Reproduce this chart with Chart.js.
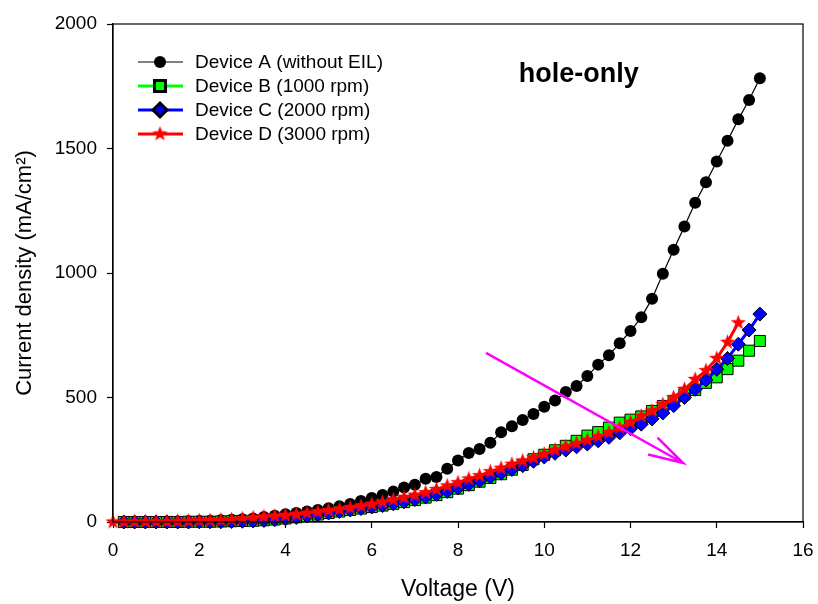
<!DOCTYPE html>
<html>
<head>
<meta charset="utf-8">
<script src="https://cdn.jsdelivr.net/npm/chart.js@4.4.1/dist/chart.umd.min.js"></script>
<style>
  body { margin: 0; background: #fff; }
</style>
</head>
<body>
<canvas id="ivChart" width="818" height="604"></canvas>
<script>
const CHART = document.getElementById('ivChart');

// voltage steps (V)
var voltage = [0.25, 0.5, 0.75, 1, 1.25, 1.5, 1.75, 2, 2.25, 2.5, 2.75, 3, 3.25, 3.5, 3.75, 4,
  4.25, 4.5, 4.75, 5, 5.25, 5.5, 5.75, 6, 6.25, 6.5, 6.75, 7, 7.25, 7.5, 7.75, 8,
  8.25, 8.5, 8.75, 9, 9.25, 9.5, 9.75, 10, 10.25, 10.5, 10.75, 11, 11.25, 11.5, 11.75, 12,
  12.25, 12.5, 12.75, 13, 13.25, 13.5, 13.75, 14, 14.25, 14.5, 14.75, 15];
var voltageD = [0, 0.25, 0.5, 0.75, 1, 1.25, 1.5, 1.75, 2, 2.25, 2.5, 2.75, 3, 3.25, 3.5, 3.75, 4,
  4.25, 4.5, 4.75, 5, 5.25, 5.5, 5.75, 6, 6.25, 6.5, 6.75, 7, 7.25, 7.5, 7.75, 8,
  8.25, 8.5, 8.75, 9, 9.25, 9.5, 9.75, 10, 10.25, 10.5, 10.75, 11, 11.25, 11.5, 11.75, 12,
  12.25, 12.5, 12.75, 13, 13.25, 13.5, 13.75, 14, 14.25, 14.5];

// current density (mA/cm2)
var deviceA = [0, 0, 1, 1, 2, 2, 3, 4, 5, 7, 9, 11, 14, 20, 25, 31,
  36, 42, 48, 55, 63, 72, 84, 96, 108, 122, 139, 150, 174, 181, 214, 247,
  277, 293, 318, 360, 385, 410, 434, 463, 488, 522, 546, 586, 632, 670, 718, 767,
  822, 897, 997, 1093, 1187, 1282, 1364, 1448, 1531, 1617, 1695, 1782];
var deviceB = [0, 0, 0, 0, 0, 0, 1, 1, 1, 2, 3, 4, 5, 7, 10, 14,
  19, 24, 30, 36, 42, 48, 54, 60, 66, 73, 80, 88, 98, 108, 120, 134,
  148, 162, 177, 192, 210, 229, 252, 270, 288, 306, 326, 347, 361, 379, 399, 411,
  424, 446, 466, 486, 513, 530, 559, 581, 614, 648, 688, 727];
var deviceC = [0, 0, 0, 0, 0, 0, 0, 1, 1, 1, 2, 3, 4, 6, 9, 13,
  18, 24, 30, 36, 42, 48, 54, 60, 66, 73, 81, 90, 100, 111, 123, 137,
  151, 165, 181, 196, 211, 226, 244, 261, 276, 289, 302, 313, 326, 340, 358, 375,
  393, 414, 438, 467, 500, 533, 570, 613, 657, 714, 771, 835];
var deviceD = [0, 0, 1, 1, 2, 2, 3, 4, 5, 6, 8, 10, 13, 17, 21, 24, 27,
  31, 36, 41, 46, 51, 57, 64, 72, 80, 90, 99, 108, 118, 131, 145, 158,
  173, 186, 202, 216, 232, 245, 258, 273, 289, 302, 316, 329, 343, 359, 379, 400,
  425, 446, 472, 500, 533, 573, 608, 657, 722, 800];

var labels = ['Device A (without EIL)', 'Device B (1000 rpm)', 'Device C (2000 rpm)', 'Device D (3000 rpm)'];

function pts(xs, ys) {
  return xs.map(function (x, i) { return { x: x, y: ys[i] }; });
}

// filled five point star for device D
var star = document.createElement('canvas');
star.width = 17; star.height = 17;
(function () {
  var c = star.getContext('2d');
  c.beginPath();
  for (var i = 0; i < 10; i++) {
    var r = i % 2 ? 3.3 : 8;
    var a = -Math.PI / 2 + i * Math.PI / 5;
    c.lineTo(8.5 + r * Math.cos(a), 8.5 + r * Math.sin(a));
  }
  c.closePath();
  c.fillStyle = '#ff0000';
  c.fill();
})();

var FONT = "'Liberation Sans', Arial, sans-serif";

var extras = {
  id: 'extras',
  afterDatasetsDraw: function (chart) {
    var ctx = chart.ctx, a = chart.chartArea;
    var xs = chart.scales.x, ys = chart.scales.y;
    ctx.save();
    ctx.strokeStyle = '#000';
    ctx.lineWidth = 1.2;
    ctx.strokeRect(a.left, a.top, a.right - a.left, a.bottom - a.top);

    // arrow
    var x1 = xs.getPixelForValue(8.65), y1 = ys.getPixelForValue(679);
    var x2 = xs.getPixelForValue(13.22), y2 = ys.getPixelForValue(237);
    var ang = Math.atan2(y2 - y1, x2 - x1);
    ctx.strokeStyle = '#ff00ff';
    ctx.lineWidth = 2.5;
    ctx.beginPath();
    ctx.moveTo(x1, y1); ctx.lineTo(x2, y2);
    ctx.moveTo(x2 - 36 * Math.cos(ang - 0.27), y2 - 36 * Math.sin(ang - 0.27));
    ctx.lineTo(x2, y2);
    ctx.lineTo(x2 - 36 * Math.cos(ang + 0.27), y2 - 36 * Math.sin(ang + 0.27));
    ctx.stroke();

    ctx.fillStyle = '#000';
    ctx.font = 'bold 27px ' + FONT;
    ctx.textAlign = 'center';
    ctx.textBaseline = 'middle';
    ctx.fillText('hole-only', xs.getPixelForValue(10.8), 75);

    // legend
    ctx.font = '19px ' + FONT;
    ctx.textAlign = 'left';
    chart.data.datasets.forEach(function (ds, i) {
      var y = 62 + i * 24;
      ctx.strokeStyle = ds.borderColor;
      ctx.lineWidth = ds.borderWidth;
      ctx.beginPath(); ctx.moveTo(138, y); ctx.lineTo(183, y); ctx.stroke();
      ctx.fillStyle = ds.pointBackgroundColor;
      ctx.strokeStyle = ds.pointBorderColor;
      Chart.helpers.drawPoint(ctx, {
        pointStyle: ds.pointStyle, rotation: 0,
        radius: ds.pointRadius, borderWidth: ds.pointBorderWidth
      }, 160, y);
      ctx.fillStyle = '#000';
      ctx.fillText(ds.label, 195, y + 1);
    });
    ctx.restore();
  }
};

var lineChart = new Chart(CHART, {
  type: 'line',
  data: {
    datasets: [
      {
        label: labels[0], data: pts(voltage, deviceA), order: 4,
        borderColor: '#000', borderWidth: 1.2,
        pointStyle: 'circle', pointRadius: 6, pointBackgroundColor: '#000',
        pointBorderColor: '#000', pointBorderWidth: 0
      },
      {
        label: labels[1], data: pts(voltage, deviceB), order: 3,
        borderColor: '#00ff00', borderWidth: 3,
        pointStyle: 'rect', pointRadius: 7.8, pointBackgroundColor: '#00ff00',
        pointBorderColor: '#000', pointBorderWidth: 1
      },
      {
        label: labels[2], data: pts(voltage, deviceC), order: 2,
        borderColor: '#0000ff', borderWidth: 3,
        pointStyle: 'rectRot', pointRadius: 7, pointBackgroundColor: '#0000ff',
        pointBorderColor: '#000', pointBorderWidth: 1
      },
      {
        label: labels[3], data: pts(voltageD, deviceD), order: 1,
        borderColor: '#ff0000', borderWidth: 3,
        pointStyle: star, pointRadius: 8, pointBackgroundColor: '#ff0000',
        pointBorderColor: '#ff0000', pointBorderWidth: 0
      }
    ]
  },
  options: {
    responsive: false,
    animation: false,
    clip: false,
    layout: { padding: { top: 24, right: 15, left: 0, bottom: 0 } },
    plugins: { legend: { display: false }, tooltip: { enabled: false } },
    scales: {
      x: {
        type: 'linear', min: 0, max: 16,
        ticks: { stepSize: 2, color: '#000', padding: 11, font: { size: 19, family: FONT } },
        grid: { drawOnChartArea: false, tickLength: 6, tickColor: '#000', tickWidth: 1.2 },
        border: { color: '#000', width: 1.2 },
        title: { display: true, text: 'Voltage (V)', color: '#000', padding: { top: 0, bottom: 1 }, font: { size: 23, family: FONT } },
        afterFit: function (s) { s.height = 82; s.paddingLeft = 0; s.paddingRight = 0; }
      },
      y: {
        type: 'linear', min: 0, max: 2000,
        ticks: { stepSize: 500, color: '#000', padding: 10, font: { size: 19, family: FONT },
          callback: function (v) { return String(v); } },
        grid: { drawOnChartArea: false, tickLength: 6, tickColor: '#000', tickWidth: 1.2 },
        border: { color: '#000', width: 1.2 },
        title: { display: true, text: 'Current density (mA/cm\u00b2)', color: '#000', padding: { top: 12, bottom: 0 }, font: { size: 22, family: FONT } },
        afterFit: function (s) { s.width = 113; }
      }
    }
  },
  plugins: [extras]
});
</script>
</body>
</html>
